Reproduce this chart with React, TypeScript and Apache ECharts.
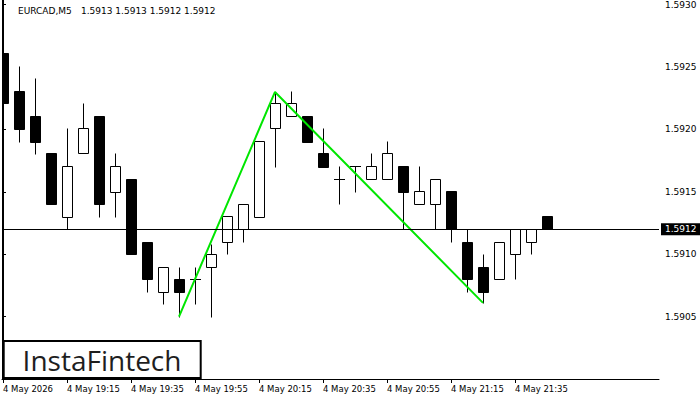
import React, { useEffect, useRef } from "react";
import * as echarts from "echarts";

const times = [
  "18:55", "19:00", "19:05", "19:10", "19:15", "19:20", "19:25", "19:30", "19:35", "19:40",
  "19:45", "19:50", "19:55", "20:00", "20:05", "20:10", "20:15", "20:20", "20:25", "20:30",
  "20:35", "20:40", "20:45", "20:50", "20:55", "21:00", "21:05", "21:10", "21:15", "21:20",
  "21:25", "21:30", "21:35", "21:40", "21:45",
];
const opens = [
  1.59261, 1.59231, 1.59211, 1.59181, 1.5913, 1.59181, 1.59211, 1.5915, 1.5916, 1.5911,
  1.5907, 1.5908, 1.5908, 1.5909, 1.5911, 1.5912, 1.5913, 1.59201, 1.59211, 1.59211,
  1.59181, 1.5916, 1.59171, 1.5916, 1.5916, 1.59171, 1.5914, 1.5914, 1.59151, 1.5911,
  1.5909, 1.5908, 1.591, 1.5911, 1.59131,
];
const highs = [
  1.5927, 1.59251, 1.59241, 1.59181, 1.59201, 1.59221, 1.59211, 1.59181, 1.5916, 1.5911,
  1.5909, 1.5909, 1.5909, 1.59108, 1.59131, 1.5914, 1.59191, 1.5923, 1.59231, 1.59211,
  1.59201, 1.59171, 1.59171, 1.59181, 1.59191, 1.59171, 1.59171, 1.5916, 1.59151, 1.5912,
  1.591, 1.5911, 1.5912, 1.5912, 1.59131,
];
const lows = [
  1.59201, 1.5919, 1.5918, 1.5914, 1.5912, 1.59181, 1.5913, 1.5913, 1.591, 1.5907,
  1.5906, 1.5905, 1.5906, 1.5905, 1.591, 1.5911, 1.5913, 1.5917, 1.59211, 1.5919,
  1.5917, 1.5914, 1.5915, 1.5916, 1.5916, 1.5912, 1.5914, 1.5912, 1.5911, 1.5907,
  1.59061, 1.5908, 1.5908, 1.591, 1.5912,
];
const closes = [
  1.59221, 1.592, 1.5919, 1.5914, 1.59171, 1.59201, 1.5914, 1.59171, 1.591, 1.5908,
  1.5909, 1.5907, 1.5908, 1.591, 1.59131, 1.5914, 1.59191, 1.59221, 1.59221, 1.5919,
  1.5917, 1.5916, 1.59171, 1.59171, 1.59181, 1.5915, 1.59151, 1.5916, 1.5912, 1.5908,
  1.5907, 1.5911, 1.5912, 1.5912, 1.5912,
];

const xTickIndex = [0, 4, 8, 12, 16, 20, 24, 28, 32];
const xTickLabels = [
  "4 May 2026", "4 May 19:15", "4 May 19:35", "4 May 19:55", "4 May 20:15",
  "4 May 20:35", "4 May 20:55", "4 May 21:15", "4 May 21:35",
];
// pattern pivots: [bar index, "low" | "high"]
const patternBars = [11, 17, 30];
const patternSides = ["low", "high", "low"];
const currentPrice = 1.5912;
const symbolText = "EURCAD,M5";
const quoteText = "1.5913 1.5913 1.5912 1.5912";
const logoText = "InstaFintech";

const FONT = "DejaVu Sans";
const FS = 9;
const X_MIN = -0.0625;
const X_MAX = 41;

export default function App() {
  const ref = useRef<HTMLDivElement>(null);

  useEffect(() => {
    document.body.style.margin = "0";
    const chart = echarts.init(ref.current!, undefined, { renderer: "svg" });

    const candleData = times.map((t, i) => [i, opens[i], closes[i], lows[i], highs[i]]);
    const patternData = patternBars.map((b, k) => [b, patternSides[k] === "low" ? lows[b] : highs[b]]);

    const renderItem = (params: any, api: any) => {
      const i = api.value(0);
      const o = api.value(1);
      const c = api.value(2);
      const l = api.value(3);
      const h = api.value(4);
      const px = api.coord([i, o])[0];
      const cx = Math.floor(px + 0.001) + 0.5;
      const snap = (v: number) => Math.round(api.coord([i, v])[1]) + 0.5;
      const yO = snap(o), yC = snap(c), yL = snap(l), yH = snap(h);
      const children: any[] = [];
      if (yH !== yL) {
        children.push({
          type: "line",
          shape: { x1: cx, y1: yH, x2: cx, y2: yL },
          style: { stroke: "#000", lineWidth: 1 },
        });
      }
      if (yO === yC) {
        children.push({
          type: "line",
          shape: { x1: cx - 5.5, y1: yO, x2: cx + 5.5, y2: yO },
          style: { stroke: "#000", lineWidth: 1 },
        });
      } else {
        children.push({
          type: "rect",
          shape: { x: cx - 5, y: Math.min(yO, yC), width: 10, height: Math.abs(yO - yC) },
          style: { fill: c > o ? "#fff" : "#000", stroke: "#000", lineWidth: 1 },
        });
      }
      return { type: "group", children };
    };

    const yMin = 1.59;
    const yMax = 1.593037;

    chart.setOption({
      animation: false,
      backgroundColor: "#fff",
      grid: { left: 2, right: 41, top: 0, bottom: 21, containLabel: false },
      xAxis: {
        type: "value",
        min: X_MIN,
        max: X_MAX,
        axisLine: { show: true, lineStyle: { color: "#000", width: 1 } },
        axisTick: { show: true, length: 4, lineStyle: { color: "#000" }, customValues: xTickIndex },
        axisLabel: {
          customValues: xTickIndex,
          formatter: (v: number) => {
            const k = xTickIndex.indexOf(Math.round(v));
            return k >= 0 ? xTickLabels[k] : "";
          },
          align: "left",
          color: "#000",
          fontSize: 8.5,
          fontFamily: FONT,
          margin: 5,
        },
        splitLine: { show: false },
      },
      yAxis: [
        {
          type: "value",
          position: "right",
          min: yMin,
          max: yMax,
          interval: 0.0005,
          axisLine: { show: true, lineStyle: { color: "#000", width: 1 } },
          axisTick: { show: true, length: 3, lineStyle: { color: "#000" } },
          axisLabel: {
            formatter: (v: number) => v.toFixed(4),
            showMinLabel: false,
            showMaxLabel: false,
            color: "#000",
            fontSize: FS,
            fontFamily: FONT,
            margin: 6,
          },
          splitLine: { show: false },
        },
        {
          type: "value",
          position: "left",
          min: yMin,
          max: yMax,
          axisLine: { show: true, lineStyle: { color: "#000", width: 1 } },
          axisTick: { show: false },
          axisLabel: { show: false },
          splitLine: { show: false },
        },
      ],
      series: [
        {
          type: "custom",
          name: "EURCAD",
          data: candleData,
          encode: { x: 0, y: [1, 2, 3, 4] },
          renderItem,
          clip: true,
          z: 2,
          silent: true,
        },
        {
          type: "line",
          name: "pattern",
          data: patternData,
          symbol: "none",
          lineStyle: { color: "#00e600", width: 2 },
          z: 4,
          silent: true,
          markLine: {
            silent: true,
            symbol: ["none", "none"],
            data: [[{ coord: [X_MIN, currentPrice] }, { coord: [X_MAX, currentPrice] }]],
            lineStyle: { color: "#000", width: 1, type: "solid" },
            label: {
              show: true,
              position: "end",
              formatter: currentPrice.toFixed(4),
              backgroundColor: "#000",
              color: "#fff",
              fontSize: FS,
              fontFamily: FONT,
              padding: [2, 4, 1, 4],
              distance: 2,
            },
            emphasis: { disabled: true },
          },
        },
      ],
      graphic: [
        {
          type: "text",
          x: 18,
          y: 11,
          style: {
            text: symbolText,
            fontSize: FS,
            fontFamily: FONT,
            fill: "#000",
            verticalAlign: "middle",
            align: "left",
          },
          z: 10,
        },
        {
          type: "text",
          x: 81,
          y: 11,
          style: {
            text: quoteText,
            fontSize: FS,
            fontFamily: FONT,
            fill: "#000",
            verticalAlign: "middle",
            align: "left",
          },
          z: 10,
        },
        {
          type: "group",
          z: 10,
          children: [
            {
              type: "rect",
              shape: { x: 3.7, y: 341, width: 197, height: 37 },
              style: { fill: "#fff", stroke: "#000", lineWidth: 2 },
            },
            {
              type: "text",
              x: 102,
              y: 360,
              style: {
                text: logoText,
                fontSize: 28,
                fontFamily: "Open Sans",
                fontWeight: 500,
                fill: "#1e1e1e",
                align: "center",
                verticalAlign: "middle",
              },
            },
          ],
        },
      ],
    });

    return () => chart.dispose();
  }, []);

  return (
    <div
      ref={ref}
      style={{ position: "fixed", left: 0, top: 0, width: 700, height: 400, background: "#fff" }}
    />
  );
}
